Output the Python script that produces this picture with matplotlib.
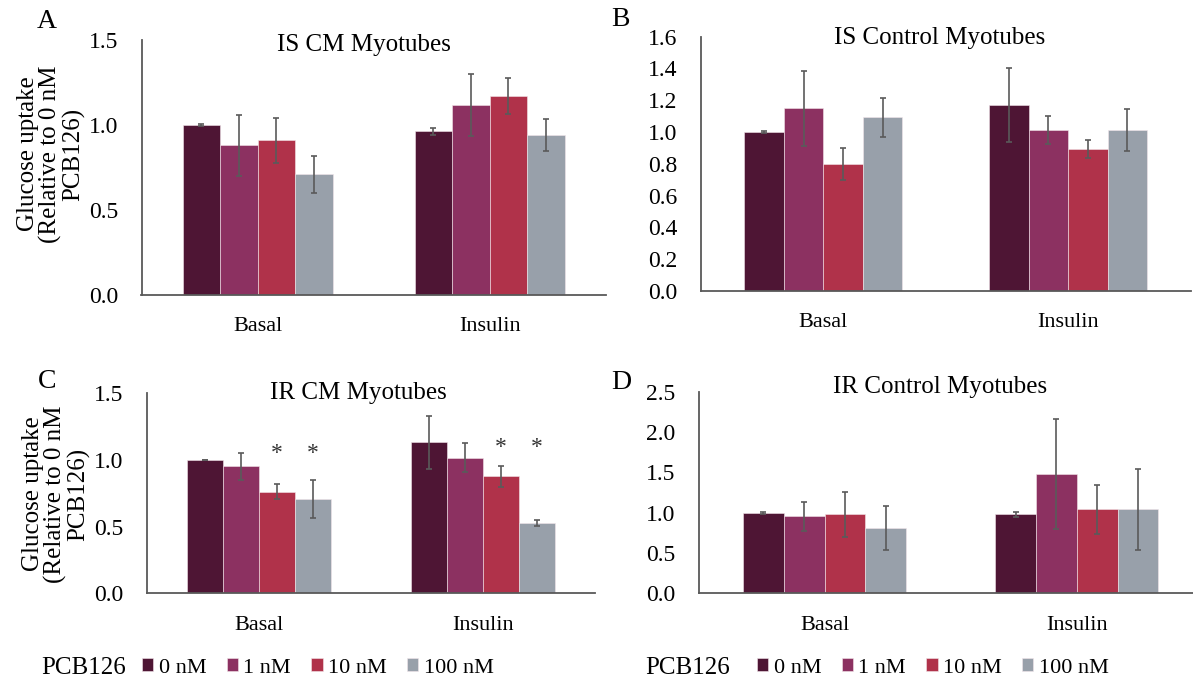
import matplotlib
matplotlib.use("Agg")
import matplotlib.pyplot as plt
import numpy as np

plt.rcParams["font.family"] = ["Liberation Serif", "DejaVu Serif"]

# Data
conditions = ["Basal", "Insulin"]
doses = ["0 nM", "1 nM", "10 nM", "100 nM"]
colors = ["#4E1534", "#8C3161", "#B0324A", "#98A0AA"]

# IS CM myotubes: rows = doses, cols = Basal, Insulin
is_cm_mean = [[1.00, 0.963], [0.88, 1.12], [0.91, 1.17], [0.71, 0.94]]
is_cm_err = [[0.005, 0.02], [0.178, 0.182], [0.132, 0.105], [0.11, 0.093]]

is_ctrl_mean = [[1.00, 1.17], [1.149, 1.013], [0.80, 0.893], [1.092, 1.013]]
is_ctrl_err = [[0.005, 0.23], [0.234, 0.088], [0.10, 0.056], [0.123, 0.134]]

ir_cm_mean = [[1.00, 1.133], [0.953, 1.018], [0.763, 0.878], [0.708, 0.528]]
ir_cm_err = [[0.003, 0.197], [0.10, 0.11], [0.057, 0.08], [0.144, 0.02]]

ir_ctrl_mean = [[1.00, 0.979], [0.955, 1.479], [0.979, 1.041], [0.81, 1.041]]
ir_ctrl_err = [[0.012, 0.027], [0.18, 0.684], [0.275, 0.305], [0.268, 0.50]]

# significance marks in IR CM panel: (condition index, dose index)
sig_marks = [(0, 2), (0, 3), (1, 2), (1, 3)]

W, H = 1193, 682
fig = plt.figure(figsize=(W / 100, H / 100), dpi=100)


def px_axes(left, right, top, bottom):
    return fig.add_axes([left / W, 1 - bottom / H, (right - left) / W, (bottom - top) / H])


gap = 2.19
bw = 1.0 / (4 + gap)
x = np.arange(len(conditions))


def draw_panel(ax, means, errs, ymax, ystep):
    conts = []
    for i in range(len(doses)):
        off = (i - 1.5) * bw
        c = ax.bar(x + off, means[i], width=bw, color=colors[i],
                   edgecolor="#f2e6ea", linewidth=0.4, label=doses[i], zorder=2)
        ax.errorbar(x + off, means[i], yerr=errs[i], fmt="none",
                    ecolor="#5a5a5a", elinewidth=1.2, capsize=2.4,
                    capthick=1.2, zorder=3)
        conts.append(c)
    ax.set_xlim(-0.5, 1.5)
    ax.set_ylim(0, ymax)
    ax.set_yticks(np.arange(0, ymax + 1e-9, ystep))
    ax.yaxis.set_major_formatter(matplotlib.ticker.FormatStrFormatter("%.1f"))
    ax.set_xticks(x)
    ax.set_xticklabels(conditions)
    for s in ("top", "right"):
        ax.spines[s].set_visible(False)
    for s in ("left", "bottom"):
        ax.spines[s].set_color("#595959")
        ax.spines[s].set_linewidth(1.3)
    ax.tick_params(axis="both", length=0, labelsize=17)
    ax.tick_params(axis="y", pad=17)
    ax.tick_params(axis="x", pad=16, labelsize=16)
    ax.patch.set_alpha(0)
    return conts


axA = px_axes(141.5, 605.8, 40, 295)
draw_panel(axA, is_cm_mean, is_cm_err, 1.5, 0.5)
axB = px_axes(701, 1190.5, 36.7, 291)
draw_panel(axB, is_ctrl_mean, is_ctrl_err, 1.6, 0.2)
axC = px_axes(147, 595, 393.3, 593.3)
barsC = draw_panel(axC, ir_cm_mean, ir_cm_err, 1.5, 0.5)
axD = px_axes(698.5, 1203, 391.7, 593.3)
barsD = draw_panel(axD, ir_ctrl_mean, ir_ctrl_err, 2.5, 0.5)

# significance asterisks: same height within each condition group
star_y = [1.045, 1.095]
for ci, di in sig_marks:
    axC.text(x[ci] + (di - 1.5) * bw, star_y[ci], "*", ha="center", va="center",
             fontsize=17, color="#333333")


def ftext(px, py, s, **kw):
    fig.text(px / W, 1 - py / H, s, **kw)


# panel titles
ftext(364, 45, "IS CM Myotubes", ha="center", va="center", fontsize=18)
ftext(940, 38, "IS Control Myotubes", ha="center", va="center", fontsize=18)
ftext(358, 393, "IR CM Myotubes", ha="center", va="center", fontsize=18)
ftext(940, 387, "IR Control Myotubes", ha="center", va="center", fontsize=18)

# panel letters
for (px, py, s) in [(47, 21, "A"), (620, 20, "B"), (47, 382, "C"), (621, 383, "D")]:
    ftext(px, py, s, ha="center", va="center", fontsize=20)

# y labels
ylab = "Glucose uptake\n(Relative to 0 nM\nPCB126)"
ftext(51, 154, ylab, rotation=90, ha="center", va="center", fontsize=18,
      multialignment="center", linespacing=1.0)
ftext(56, 494, ylab, rotation=90, ha="center", va="center", fontsize=18,
      multialignment="center", linespacing=1.0)

# legends
for (tx, lx, conts) in [(41, 142, barsC), (645, 757, barsD)]:
    ftext(tx, 668, "PCB126", ha="left", va="center", fontsize=18)
    fig.legend(conts, doses, loc="center left", bbox_to_anchor=(lx / W, 1 - 668 / H),
               ncol=4, frameon=False, fontsize=16, handlelength=0.5,
               handleheight=0.5, handletextpad=0.25, columnspacing=0.92,
               borderpad=0, borderaxespad=0)

fig.savefig("out.png", dpi=100)
